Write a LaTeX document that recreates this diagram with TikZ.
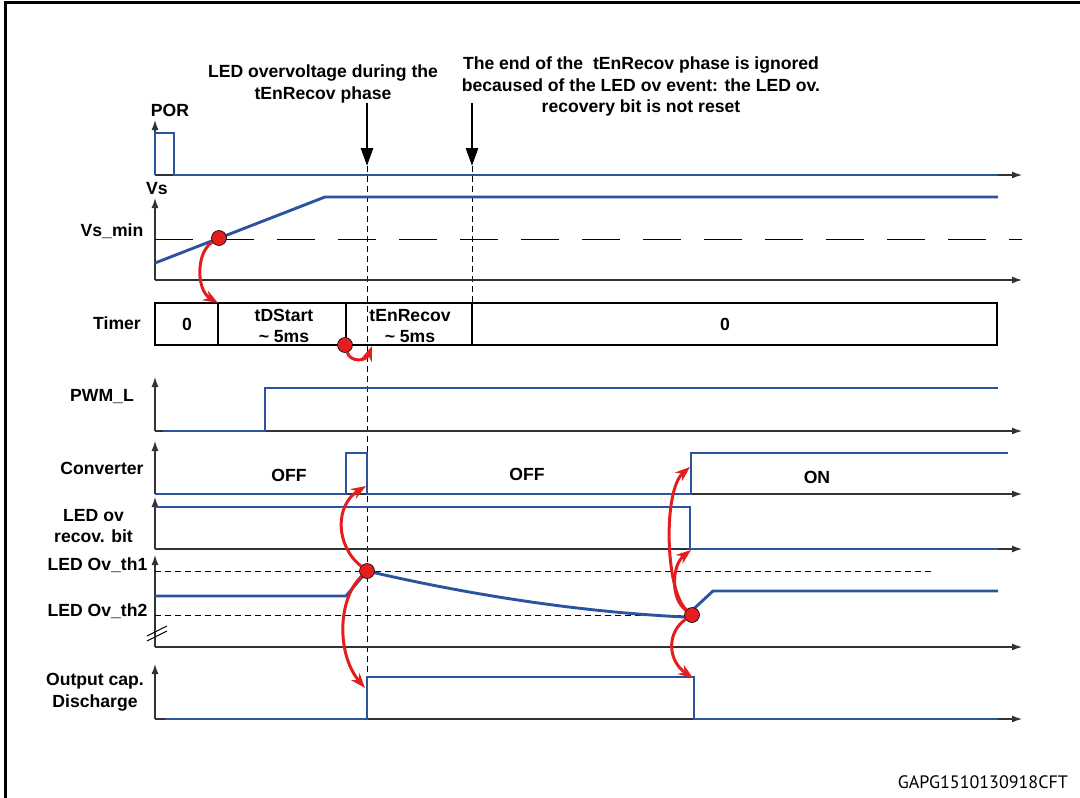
\documentclass[tikz,border=0pt]{standalone}
\usepackage{fontspec}
\setmainfont{Liberation Sans}
\newfontfamily\footfont{PT Sans}
\usetikzlibrary{arrows.meta}
\definecolor{sigblue}{HTML}{2C53A0}
\definecolor{evred}{HTML}{E41E1E}
\definecolor{axgray}{HTML}{333333}
\begin{document}
\begin{tikzpicture}[x=1pt,y=-1pt,
  sig/.style={draw=sigblue, line width=2.9pt, line join=miter},
  axis/.style={draw=axgray, line width=1.2pt, -{Latex[length=10pt,width=7pt]}},
  redarr/.style={draw=evred, line width=3pt, -{Stealth[length=15pt,width=11pt]}},
  evdot/.style={circle, fill=evred, draw=black, line width=0.6pt, minimum size=15pt, inner sep=0pt},
  vdash/.style={draw=black, line width=0.9pt, dash pattern=on 6pt off 4pt},
  bigarr/.style={draw=black, line width=2.8pt, -{Triangle[length=18pt,width=12pt]}},
  lbl/.style={font=\bfseries\fontsize{17.6}{21.5}\selectfont, align=center, inner sep=0pt},
  tbox/.style={draw=black, line width=1.2pt}]
\useasboundingbox (0,0) rectangle (1080,798);
% frame
\draw[line width=2.6pt] (5.5,800) -- (5.5,2.5) -- (1082,2.5);

% ---------- headings ----------
\node[lbl] (txtA) at (323,84) {LED overvoltage during the\\tEnRecov phase};
\node[lbl] (txtB) at (641,86.5) {The end of the\ \ tEnRecov phase is ignored\\becaused of the LED ov event: the LED ov.\\recovery bit is not reset};
\coordinate (a1) at (367,166);
\coordinate (a2) at (472,166);
\coordinate (a2top) at (472,103);

% ---------- row labels ----------
\node[lbl] (lPOR) at (170,110) {POR};
\node[lbl] (lVs) at (157,189) {Vs};
\node[lbl] (lVsmin) at (112,231) {Vs\_min};
\node[lbl] (lTimer) at (117,323) {Timer};
\node[lbl] (lPWM) at (102,397) {PWM\_L};
\node[lbl] (lConv) at (102,468) {Converter};
\node[lbl] (lRecov) at (93.5,526) {LED ov\\recov. bit};
\node[lbl] (lTh1) at (97.5,565) {LED Ov\_th1};
\node[lbl] (lTh2) at (97.5,611) {LED Ov\_th2};
\node[lbl] (lOut) at (95,692) {Output cap.\\Discharge};

% ---------- vertical dashed markers ----------
\draw[vdash] (a1) -- (367,719);
\draw[vdash] (a2) -- (472,303);
\draw[bigarr] (a1 |- txtA.south) -- (a1);
\draw[bigarr] (a2top) -- (a2);

% ---------- axes ----------
\foreach \y/\t in {175/120, 280/198, 431/377, 494/441, 549/497, 647/555, 719/664}{
  \draw[axis] (155,\y) -- (155,\t);
  \draw[axis] (155,\y) -- (1022,\y);
}
% Vs_min threshold
\draw[draw=black, line width=1pt, dash pattern=on 38pt off 23pt] (155,239) -- (1022,239);
% LED thresholds
\draw[vdash] (155,571) -- (931,571);
\draw[vdash] (155,615) -- (686,615);
% axis break
\draw[black, line width=1pt] (147,641) -- (167,631);
\draw[black, line width=1pt] (147,636) -- (167,626);

% ---------- Timer ----------
\draw[tbox] (155,303) rectangle (997,345);
\draw[tbox] (218,303) -- (218,345);
\draw[tbox] (346,303) -- (346,345);
\draw[tbox] (472,303) -- (472,345);
\node[lbl] (tz1) at (187,324) {0};
\node[lbl] (tds) at (284,326) {tDStart\\\textasciitilde\ 5ms};
\node[lbl] (ter) at (410,326) {tEnRecov\\\textasciitilde\ 5ms};
\node[lbl] (tz2) at (725,324) {0};
\coordinate (tc1) at (218,303);
\coordinate (tc2) at (372,346);

% ---------- signals ----------
\draw[sig] (155,175) -- (155,133) -- (174,133) -- (174,175) -- (998,175);
\draw[sig] (155,263) -- (325,197) -- (998,197);
\draw[sig] (163,431) -- (265,431) -- (265,388) -- (998,388);
\draw[sig] (155,494) -- (346,494) -- (346,453) -- (367,453) -- (367,494) -- (691,494) -- (691,453) -- (1008,453);
\draw[sig] (155,507) -- (690,507) -- (690,549) -- (998,549);
\draw[sig] (155,596) -- (346,596) -- (367,571) .. controls (470,595) and (580,612) .. (685,617) -- (713,591) -- (998,591);
\draw[sig] (165,719) -- (367,719) -- (367,677) -- (694,677) -- (694,719) -- (998,719);

\node[lbl] (off1) at (289,475) {OFF};
\node[lbl] (off2) at (527,474) {OFF};
\node[lbl] (on1) at (817,477) {ON};

% ---------- events ----------
\node[evdot] (p1) at (219,238) {};
\node[evdot] (p2) at (345,345) {};
\node[evdot] (p3) at (367,571) {};
\node[evdot] (p4) at (692,615) {};
\coordinate (c1) at (366,486);
\coordinate (c2) at (365,688);
\coordinate (c3) at (690,467);
\coordinate (c4) at (691,550);
\coordinate (c5) at (693,678);

\draw[redarr] (p1) .. controls (196,252) and (196,290) .. (tc1);
\draw[redarr] (p2) .. controls (350,362) and (366,362) .. (tc2);
\draw[redarr] (p3) .. controls (335,545) and (335,505) .. (c1);
\draw[redarr] (p3) .. controls (337,600) and (337,655) .. (c2);
\draw[redarr] (p4) .. controls (665,590) and (663,490) .. (c3);
\draw[redarr] (p4) .. controls (670,598) and (672,565) .. (c4);
\draw[redarr] (p4) .. controls (667,632) and (667,660) .. (c5);

% ---------- footer ----------
\node[anchor=east, inner sep=0pt, font=\footfont\fontsize{18}{22}\selectfont] (foot) at (1068,782) {GAPG1510130918CFT};
\end{tikzpicture}
\end{document}
